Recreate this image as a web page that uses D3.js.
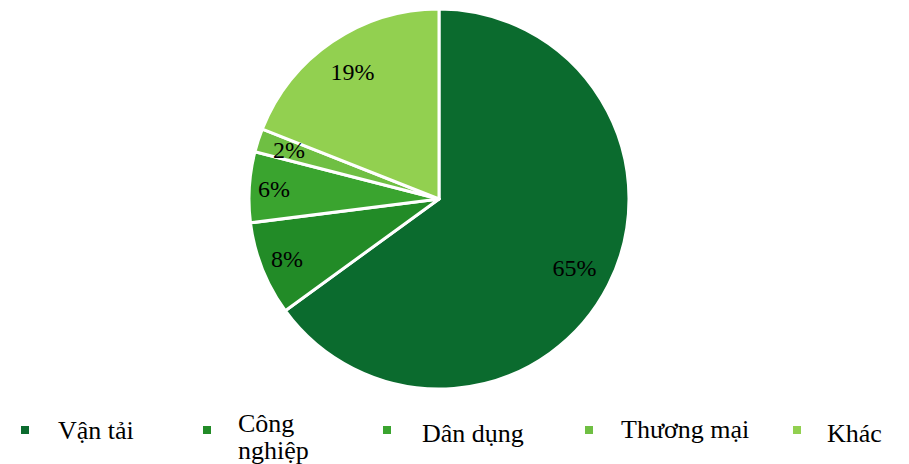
<!DOCTYPE html>
<html><head><meta charset="utf-8">
<script src="https://cdn.jsdelivr.net/npm/d3@7"></script>
<style>body{margin:0;background:#fff}svg{display:block}</style>
</head><body>
<svg id="c" width="909" height="464"></svg>
<script>
const categories = ["Vận tải", "Công nghiệp", "Dân dụng", "Thương mại", "Khác"];
const values = [65, 8, 6, 2, 19];
const colors = ["#0b6b2e", "#228b27", "#3aa42f", "#6fbf43", "#92d050"];

const FONT = "Liberation Serif";
const svg = d3.select("#c");
const cx = 439, cy = 199, R = 190;
const labelR = [0.8, 0.86, 0.87, 0.83, 0.81];
const pie = d3.pie().sort(null).value(d => d)(values);
const arc = d3.arc().innerRadius(0).outerRadius(R);
const g = svg.append("g").attr("transform", `translate(${cx},${cy})`);
g.selectAll("path").data(pie).join("path")
  .attr("d", arc).attr("fill", (d, i) => colors[i])
  .attr("stroke", "#fff").attr("stroke-width", 3).attr("stroke-linejoin", "round");
g.selectAll("text").data(pie).join("text")
  .attr("transform", (d, i) => {
    const r = R * labelR[i];
    const c = d3.arc().innerRadius(r).outerRadius(r).centroid(d);
    return `translate(${c[0]},${c[1]})`;
  })
  .attr("text-anchor", "middle").attr("dy", 8)
  .attr("font-family", FONT).attr("font-size", 24)
  .attr("fill", "#000").text(d => d.data + "%");

// legend
const legX = [21, 203, 383, 585, 793];
const txtX = [58, 238, 422, 621, 827];
const legY = [439, 432, 442, 438, 442];
const lg = svg.append("g");
categories.forEach((c, i) => {
  lg.append("rect").attr("x", legX[i]).attr("y", 426).attr("width", 8).attr("height", 8).attr("fill", colors[i]);
  const t = lg.append("text").attr("font-family", FONT)
    .attr("font-size", 26).attr("fill", "#000").attr("x", txtX[i]);
  if (i === 1) {
    const parts = c.split(" ");
    t.append("tspan").attr("x", txtX[i]).attr("y", legY[i]).text(parts[0]);
    t.append("tspan").attr("x", txtX[i]).attr("y", legY[i] + 27).text(parts[1]);
  } else {
    t.attr("y", legY[i]).text(c);
  }
});
</script>
</body></html>
